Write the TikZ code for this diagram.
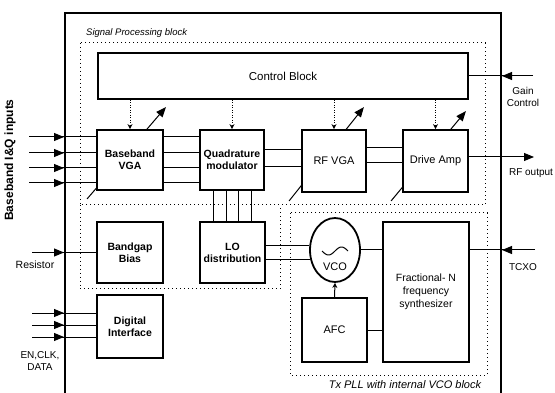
\documentclass[tikz,border=0pt]{standalone}
\usepackage{fontspec}
\setmainfont{Liberation Sans}
\usetikzlibrary{positioning,arrows.meta,shapes.geometric,calc,backgrounds}

\begin{document}
\begin{tikzpicture}[x=1pt,y=-1pt,
                    every node/.style={inner sep=1pt,align=center},
                    blk/.style={draw,line width=1.8pt,fill=white,font=\fontsize{10.5}{12}\selectfont\bfseries},
                    plain/.style={blk,font=\fontsize{11}{12.5}\selectfont},
                    sz/.style 2 args={minimum width=#1,minimum height=#2},
                    lbl/.style={font=\fontsize{10}{11.5}\selectfont},
                    ttl/.style={font=\fontsize{11}{12}\selectfont\itshape},
                    frame/.style={line width=1pt,dash pattern=on 1pt off 3pt},
                    sig/.style={line width=1pt},
                    tip/.style={sig,-{Triangle[length=10pt,width=8pt]}},
                    ctl/.style={sig,dash pattern=on 1pt off 1.5pt,-{Stealth[length=5pt,width=5pt]}}]
  \useasboundingbox (0,0) rectangle (555,393);
  % chip outline and dotted blocks
  \draw[line width=2pt] (65,393) -- (65,13) -- (501,13) -- (501,393);
  \draw[frame] (80,43) rectangle (485,205);
  \draw[frame] (80,205) -- (80,289) -- (280,289) -- (280,205);
  \draw[frame] (290,213) rectangle (487,375);
  \node[ttl,font=\fontsize{9.5}{11}\selectfont\itshape,anchor=west] (sptitle) at (85,33) {Signal Processing block};
  \node[ttl] (plltitle) at (405,385) {Tx PLL with internal VCO block};

  \node[plain,font=\fontsize{11.5}{13}\selectfont,sz={370pt}{46pt}] (ctrl) at (283,76) {Control Block};
  \node[blk,sz={66pt}{60pt}] (bbvga) at (130,160) {Baseband\\VGA};
  \node[blk,sz={64pt}{60pt}] (qmod) at (232,160) {Quadrature\\modulator};
  \node[plain,sz={64pt}{62pt}] (rfvga) at (334,161) {RF VGA};
  \node[plain,sz={65pt}{62pt}] (damp) at (435.5,161) {Drive Amp};
  \node[blk,sz={66pt}{61pt}] (bgap) at (130,252.5) {Bandgap\\Bias};
  \node[blk,sz={65pt}{61pt}] (lodist) at (232.5,252.5) {LO\\distribution};
  \node[blk,sz={66pt}{63pt}] (digif) at (130,326.5) {Digital\\Interface};
  \node[draw,ellipse,line width=1.8pt,inner sep=0pt,sz={50pt}{64pt}] (vco) at (335,250) {};
  \node[plain] (vcotxt) at (335,267) [draw=none,fill=none] {VCO};
  \node[blk,font=\fontsize{10.5}{13}\selectfont,sz={86pt}{140pt}] (fracn) at (426,292) {Fractional- N\\frequency\\synthesizer};
  \node[plain,sz={65pt}{64pt}] (afc) at (334.5,330) {AFC};
  \draw[sig,shift={(vco.center)}] plot[domain=-13:13,samples=40,smooth] (\x,{1+4*sin(\x*360/26+180)});

  % gain adjust arrows behind the amplifiers
  \begin{pgfonlayer}{background}
    \draw[tip] ($(bbvga.south west)+(-9,8)$) -- ($(bbvga.north east)+(2,-22)$);
    \draw[tip] ($(rfvga.south west)+(-12,8)$) -- ($(rfvga.north east)+(-3,-22)$);
    \draw[tip] ($(damp.south west)+(-11,8)$) -- ($(damp.north east)+(-3,-18)$);
  \end{pgfonlayer}

  % control lines
  \foreach \b in {bbvga,qmod,rfvga,damp}
    \draw[ctl] (ctrl.south -| \b) -- (\b.north);

  % baseband inputs
  \foreach \y [count=\i] in {137,153,168,183} {
    \coordinate (in\i) at (29,\y);
    \draw[sig] (in\i) -- (bbvga.west |- in\i);
    \draw[tip] (in\i) -- (64,\y);
    \draw[sig] (bbvga.east |- in\i) -- (qmod.west |- in\i);
  }
  \node[lbl,rotate=90,font=\fontsize{12}{13}\selectfont\bfseries] (bblbl) at (10,160) {Baseband I\&Q inputs};

  % signal path
  \foreach \y in {150,167}
    \draw[sig] (qmod.east |- 0,\y) -- (rfvga.west |- 0,\y);
  \foreach \y in {148,163}
    \draw[sig] (rfvga.east |- 0,\y) -- (damp.west |- 0,\y);
  \foreach \x in {213,226,238,251}
    \draw[sig] (qmod.south -| \x,0) -- (lodist.north -| \x,0);
  \coordinate (rfo) at (534,157);
  \draw[tip] (damp.east |- rfo) -- (rfo);
  \node[lbl] (rfolbl) at (531,173) {RF output};

  % gain control
  \coordinate (gc) at (533,76);
  \draw[sig] (ctrl.east) -- (gc);
  \draw[tip] (gc) -- (502,76);
  \node[lbl] (gclbl) at (523,97) {Gain\\Control};

  % bias resistor
  \coordinate (res) at (32,252.5);
  \draw[sig] (res) -- (bgap.west);
  \draw[tip] (res) -- (64,252.5);
  \node[lbl,font=\fontsize{10.5}{12}\selectfont] (reslbl) at (35,265) {Resistor};

  % digital inputs
  \foreach \y [count=\i] in {313,325,337} {
    \coordinate (dig\i) at (32,\y);
    \draw[sig] (dig\i) -- (digif.west |- dig\i);
    \draw[tip] (dig\i) -- (64,\y);
  }
  \node[lbl] (diglbl) at (40,361) {EN,CLK,\\DATA};

  % PLL
  \draw[sig] (lodist.east |- vco.170) -- (vco.170);
  \draw[sig] (lodist.east |- vco.202) -- (vco.202);
  \draw[sig] (vco.east) -- (vco.east -| fracn.west);
  \draw[sig] (afc.east) -- (afc.east -| fracn.west);
  \draw[sig,-{Stealth[length=5pt,width=5pt]}] (afc.north) -- (vco.south);
  \coordinate (tcxo) at (535,250);
  \draw[sig] (fracn.east |- tcxo) -- (tcxo);
  \draw[tip] (tcxo) -- (502,250);
  \node[lbl] (tcxolbl) at (523,267) {TCXO};
\end{tikzpicture}
\end{document}
